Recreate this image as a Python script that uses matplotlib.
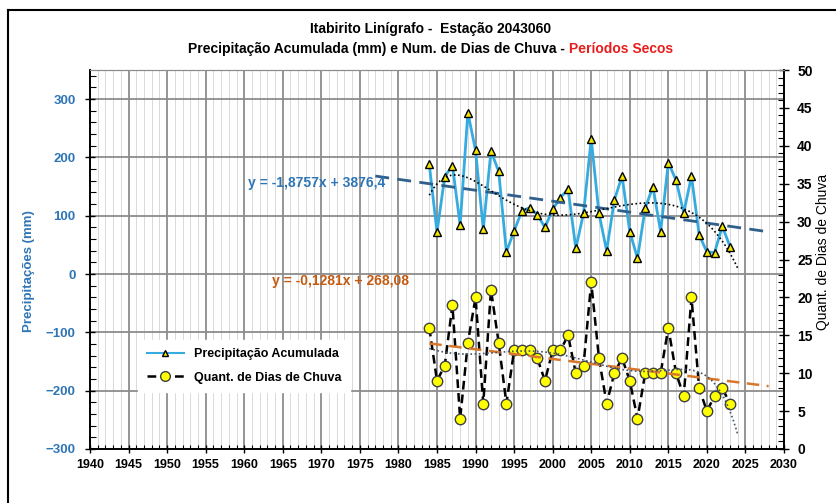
import matplotlib.pyplot as plt
from matplotlib.ticker import MultipleLocator
from matplotlib.lines import Line2D
import numpy as np

plt.rcParams['font.family'] = ['Liberation Sans', 'DejaVu Sans']

# Dry-period series, 1984-2023
anos = list(range(1984, 2024))
precip = [188, 72, 167, 186, 84, 277, 212, 77, 211, 176,
          38, 74, 108, 114, 102, 80, 111, 131, 146, 44,
          104, 232, 104, 40, 127, 168, 73, 27, 113, 150,
          73, 191, 161, 105, 168, 67, 38, 37, 82, 47]
dias = [16, 9, 11, 19, 4, 14, 20, 6, 21, 14,
        6, 13, 13, 13, 12, 9, 13, 13, 15, 10,
        11, 22, 12, 6, 10, 12, 9, 4, 10, 10,
        10, 16, 10, 7, 20, 8, 5, 7, 8, 6]

# linear trend coefficients (as printed on the chart)
a_prec, b_prec = -1.8757, 3876.4
a_dias, b_dias = -0.1281, 268.08

azul = '#2E75B6'
laranja = '#C55A11'

fig = plt.figure(figsize=(8.37, 5.03), dpi=100)
ax = fig.add_axes([90 / 837, 1 - 449 / 503, 694 / 837, 379 / 503])
ax2 = ax.twinx()

# outer frame
fig.add_artist(Line2D([8 / 837, 1], [1 - 10 / 503, 1 - 10 / 503], color='black', lw=1.5))
fig.add_artist(Line2D([8 / 837, 8 / 837], [0, 1 - 10 / 503], color='black', lw=1.5))

x = np.array(anos, dtype=float)

# precipitation series + trends
ax.plot(anos, precip, color='#35ABE0', lw=2, marker='^', ms=5.5,
        mfc='#F2E600', mec='black', mew=1, zorder=4)
xt = np.linspace(1977, 2028, 50)
ax.plot(xt, a_prec * xt + b_prec, color='#2F5F8A', lw=2, ls=(0, (5, 3)), zorder=5)
xc = x - 2003.5
cp = np.polyfit(xc, precip, 6)
xp = np.linspace(1984, 2024, 200)
ax.plot(xp, np.polyval(cp, xp - 2003.5), color='black', lw=1.2, ls=(0, (1, 1.5)), zorder=5)

# rainy days series + trends
ax2.plot(anos, dias, color='black', lw=1.8, ls=(0, (3.5, 2)), marker='o', ms=7.5,
         mfc='#FFFF00', mec='#404040', mew=1, zorder=4)
xt2 = np.linspace(1984, 2028, 50)
ax2.plot(xt2, a_dias * xt2 + b_dias, color='#D9782D', lw=1.8, ls=(0, (5, 3)), zorder=5)
cd = np.polyfit(xc, dias, 6)
ax2.plot(xp, np.polyval(cd, xp - 2003.5), color='#44546A', lw=1.2, ls=(0, (1, 1.5)), zorder=5)

# axes, ticks and grid
ax.set_xlim(1940, 2030)
ax.set_ylim(-300, 350)
ax2.set_ylim(0, 50)
ax.xaxis.set_major_locator(MultipleLocator(5))
ax.xaxis.set_minor_locator(MultipleLocator(1))
ax.yaxis.set_minor_locator(MultipleLocator(20))
ax2.yaxis.set_major_locator(MultipleLocator(5))
ax2.yaxis.set_minor_locator(MultipleLocator(1))
ax.set_yticks([-300, -200, -100, 0, 100, 200, 300])

ax.grid(which='major', axis='x', color='#8C8C8C', lw=1.3)
ax.grid(which='minor', axis='x', color='#D9D9D9', lw=0.7)
ax.grid(which='major', axis='y', color='#8C8C8C', lw=1.3)
ax.set_axisbelow(True)

ax.tick_params(axis='x', which='major', direction='inout', length=6, width=1,
               labelsize=9, pad=4)
ax.tick_params(axis='x', which='minor', direction='in', length=3, width=0.8)
ax.tick_params(axis='y', which='major', direction='inout', length=7, width=1,
               labelsize=9.5, labelcolor=azul, pad=7)
ax.tick_params(axis='y', which='minor', direction='in', length=4, width=0.8)
ax2.tick_params(axis='y', which='major', direction='inout', length=7, width=1,
                labelsize=10, pad=6)
ax2.tick_params(axis='y', which='minor', direction='in', length=4, width=0.8)
for lb in ax.get_yticklabels():
    lb.set_fontweight('bold')
for lb in ax.get_xticklabels():
    lb.set_fontweight('bold')
    lb.set_family(['Liberation Sans Narrow', 'Liberation Sans'])
for lb in ax2.get_yticklabels():
    lb.set_fontweight('bold')

for a in (ax, ax2):
    a.spines['top'].set_color('#8C8C8C')
    a.spines['left'].set_linewidth(1.2)
    a.spines['right'].set_linewidth(1.2)
    a.spines['bottom'].set_linewidth(1.2)

ax.set_ylabel('Precipitações (mm)', color=azul, fontsize=9.5, fontweight='bold')
ax.yaxis.set_label_coords(-0.079, 0.47)
ax2.set_ylabel('Quant. de Dias de Chuva', fontsize=10)
ax2.yaxis.set_label_coords(1.046, 0.52)

# trend equations
ax.text(1960.5, 156, 'y = -1,8757x + 3876,4', color=azul, fontsize=10,
        fontweight='bold', va='center', zorder=6)
ax.text(1963.6, -12, 'y = -0,1281x + 268,08', color=laranja, fontsize=10,
        fontweight='bold', va='center', zorder=6)

# titles
fig.text(0.514, 1 - 29 / 503, 'Itabirito Linígrafo -  Estação 2043060',
         ha='center', va='center', fontsize=10, fontweight='bold')
t1 = fig.text(0.514, 1 - 49 / 503, 'Precipitação Acumulada (mm) e Num. de Dias de Chuva - ',
              ha='center', va='center', fontsize=10, fontweight='bold')
fig.canvas.draw()
bb = t1.get_window_extent()
tmp = fig.text(0, 0, 'Períodos Secos', fontsize=10, fontweight='bold')
w2 = tmp.get_window_extent()
tmp.remove()
total = bb.width + w2.width
x0 = 0.514 * fig.bbox.width - total / 2
t1.set_position((x0 / fig.bbox.width, 1 - 49 / 503))
t1.set_ha('left')
fig.text((x0 + bb.width) / fig.bbox.width, 1 - 49 / 503, 'Períodos Secos',
         ha='left', va='center', fontsize=10, fontweight='bold', color='#E81E1E')

# legend
h1 = Line2D([], [], color='#35ABE0', lw=1.5, marker='^', ms=5, mfc='#F2E600',
            mec='black', mew=1)
h2 = Line2D([], [], color='black', lw=1.8, ls=(0, (3.5, 2)), marker='o', ms=7,
            mfc='#FFFF00', mec='#404040', mew=1)
leg = ax2.legend([h1, h2], ['Precipitação Acumulada', 'Quant. de Dias de Chuva'],
                 loc='upper left', bbox_to_anchor=(0.06, 0.305), frameon=True,
                 fancybox=False, edgecolor='white', framealpha=1,
                 prop={'weight': 'bold', 'size': 9}, handlelength=3,
                 labelspacing=0.9, borderpad=0.7)

fig.savefig('out.png', dpi=100)
